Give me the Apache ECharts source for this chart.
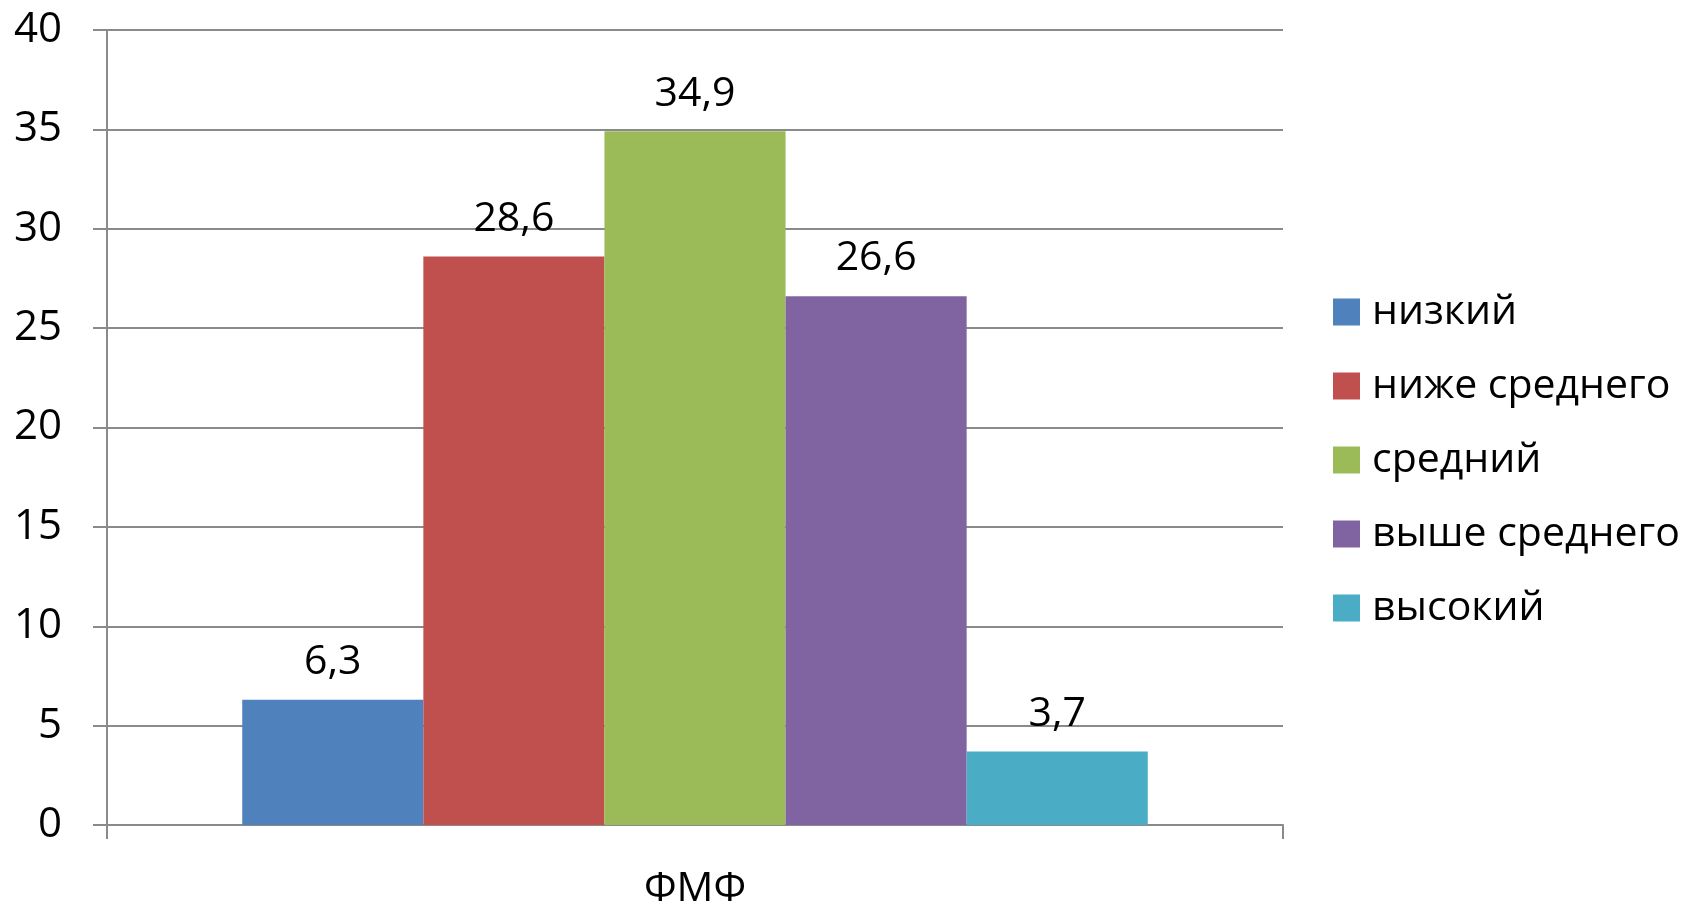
<!DOCTYPE html>
<html>
<head>
<meta charset="utf-8">
<script src="https://cdn.jsdelivr.net/npm/echarts@6/dist/echarts.min.js"></script>
<style>
html,body{margin:0;padding:0;background:#fff;}
#c{width:1686px;height:902px;}
</style>
</head>
<body>
<div id="c"></div>
<script>
const categories = ['ФМФ'];
const seriesNames = ['низкий', 'ниже среднего', 'средний', 'выше среднего', 'высокий'];
const seriesValues = [6.3, 28.6, 34.9, 26.6, 3.7];
const colors = ['#4F81BD', '#C0504D', '#9BBB59', '#8064A2', '#4BACC6'];

const FONT = 'Open Sans';
const chart = echarts.init(document.getElementById('c'));
const series = seriesNames.map((name, i) => ({
  name: name,
  type: 'bar',
  data: [seriesValues[i]],
  itemStyle: { color: colors[i] },
  barGap: '0%',
  barCategoryGap: '23%',
  label: {
    show: true,
    position: 'top',
    distance: 17,
    color: '#000',
    fontFamily: FONT,
    fontSize: 41,
    formatter: p => String(p.value).replace('.', ',')
  }
}));

chart.setOption({
  animation: false,
  backgroundColor: '#fff',
  grid: { left: 107, right: 403, top: 30, bottom: 77, containLabel: false, outerBoundsMode: 'none' },
  legend: {
    orient: 'vertical',
    left: 1328,
    top: 286,
    itemWidth: 27,
    itemHeight: 27,
    itemGap: 32,
    icon: 'rect',
    textStyle: { fontFamily: FONT, fontSize: 41, color: '#000', padding: [0, 0, 0, 7], lineHeight: 42 },
    data: seriesNames
  },
  xAxis: {
    type: 'category',
    data: categories,
    axisLine: { show: true, lineStyle: { color: '#8a8a8a', width: 2 } },
    axisTick: { show: true, length: 14, lineStyle: { color: '#8a8a8a', width: 2 } },
    axisLabel: { fontFamily: FONT, fontSize: 41, color: '#000', margin: 44 }
  },
  yAxis: {
    type: 'value',
    min: 0,
    max: 40,
    interval: 5,
    axisLine: { show: true, lineStyle: { color: '#8a8a8a', width: 2 } },
    axisTick: { show: true, inside: false, length: 14, lineStyle: { color: '#8a8a8a', width: 2 } },
    axisLabel: { fontFamily: FONT, fontSize: 42, color: '#000', margin: 45 },
    splitLine: { show: true, lineStyle: { color: '#8a8a8a', width: 2 } }
  },
  series: series
});
</script>
</body>
</html>
